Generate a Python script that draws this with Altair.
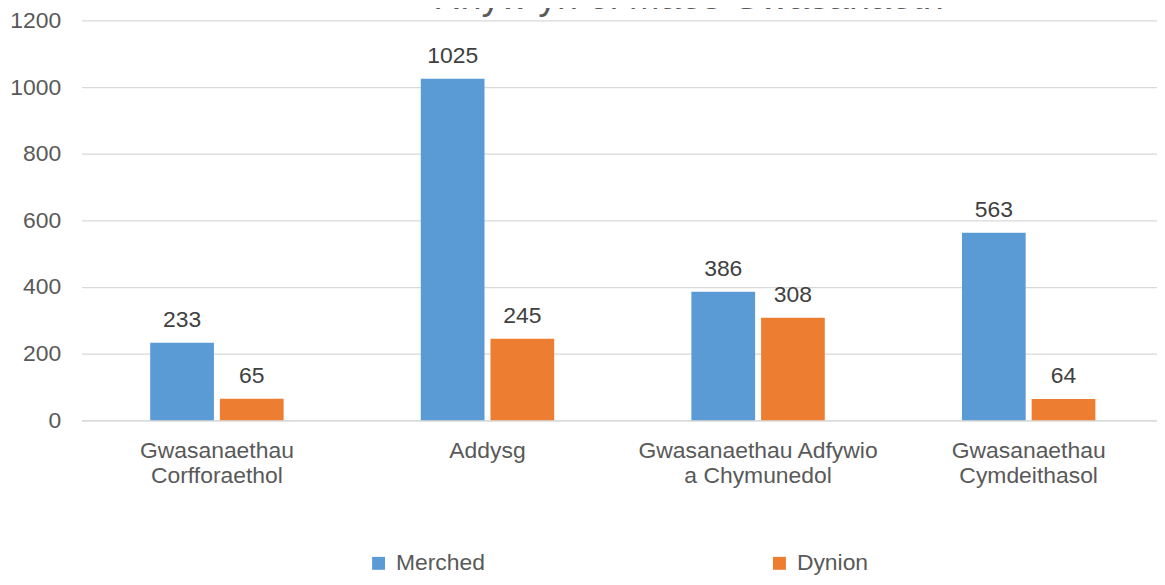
import altair as alt
import pandas as pd

categories = [
    "Gwasanaethau\nCorfforaethol",
    "Addysg",
    "Gwasanaethau Adfywio\na Chymunedol",
    "Gwasanaethau\nCymdeithasol",
]
series = ["Merched", "Dynion"]
merched = [233, 1025, 386, 563]
dynion = [65, 245, 308, 64]
colors = ["#5B9BD5", "#ED7D31"]
title_text = "Rhyw yn ôl Maes Gwasanaeth"
y_ticks = [0, 200, 400, 600, 800, 1000, 1200]

rows = []
for c, m, d in zip(categories, merched, dynion):
    rows.append({"cat": c, "series": "Merched", "value": m})
    rows.append({"cat": c, "series": "Dynion", "value": d})
df = pd.DataFrame(rows)

FONT = "Liberation Sans"
FS = 23

x_enc = alt.X(
    "cat:N",
    sort=categories,
    scale=alt.Scale(range=[0, 1088], paddingInner=0.507, paddingOuter=0.2535),
    axis=alt.Axis(
        title=None,
        labelExpr="split(datum.label, '\\n')",
        labelAngle=0,
        labelFontSize=FS,
        labelFont=FONT,
        labelColor="#595959",
        labelLineHeight=25.5,
        labelBaseline="alphabetic",
        labelPadding=37.5,
        labelLimit=0,
        ticks=False,
        tickSize=0,
        domainColor="#D9D9D9",
        domainWidth=1.3,
        grid=False,
    ),
)
xoff = alt.XOffset("series:N", sort=series, scale=alt.Scale(paddingInner=0.0857, paddingOuter=0))
y_enc = alt.Y(
    "value:Q",
    scale=alt.Scale(domain=[0, 1200], nice=False),
    axis=alt.Axis(
        title=None,
        values=y_ticks,
        format="d",
        labelFontSize=FS,
        labelFont=FONT,
        labelColor="#595959",
        labelPadding=21,
        ticks=False,
        domain=False,
        gridColor="#D9D9D9",
        gridWidth=1.3,
    ),
)

bars = alt.Chart(df).mark_bar().encode(
    x=x_enc,
    xOffset=xoff,
    y=y_enc,
    color=alt.Color(
        "series:N",
        sort=series,
        scale=alt.Scale(domain=series, range=colors),
        legend=alt.Legend(
            title=None,
            orient="none",
            direction="horizontal",
            columns=2,
            legendX=287,
            legendY=534,
            symbolType="square",
            symbolSize=169,
            symbolStrokeWidth=0,
            labelFontSize=FS,
            labelFont=FONT,
            labelColor="#595959",
            labelOffset=6,
            columnPadding=284,
            padding=0,
        ),
    ),
)

labels = alt.Chart(df).mark_text(
    dy=-16, baseline="alphabetic", fontSize=FS, font=FONT, color="#404040"
).encode(
    x=alt.X("cat:N", sort=categories),
    xOffset=xoff,
    y=alt.Y("value:Q"),
    text=alt.Text("value:Q"),
)

title = alt.Chart(pd.DataFrame({"t": [title_text]})).mark_text(
    fontSize=38, font=FONT, color="#595959", baseline="alphabetic", align="center"
).encode(x=alt.value(610), y=alt.value(-11), text="t:N")

chart = alt.layer(bars, labels, title).properties(
    width=1081,
    height=402,
    autosize=alt.AutoSizeParams(type="none"),
    padding={"left": 74, "top": 11, "right": 0, "bottom": 156},
).configure_view(stroke=None)

chart.save("out.html", embed_options={"renderer": "svg", "actions": False})
